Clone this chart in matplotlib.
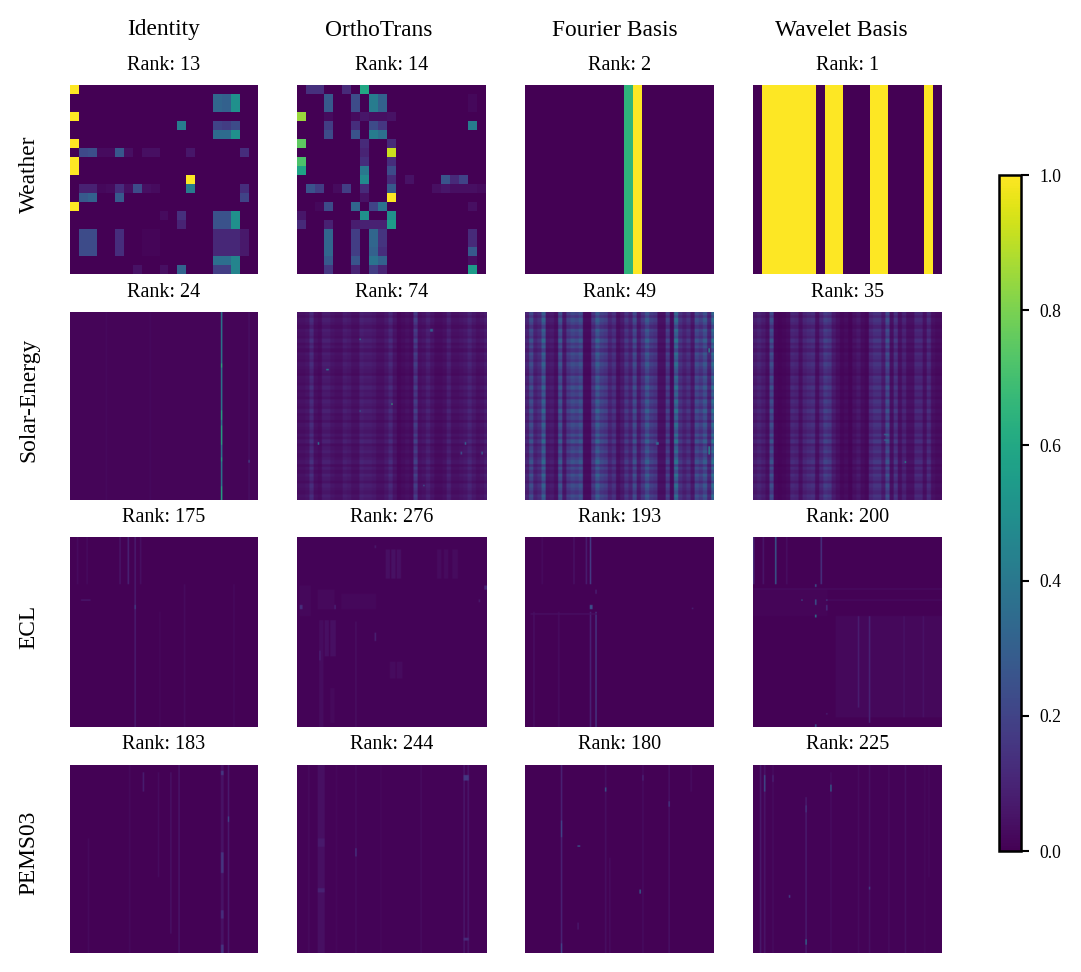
import numpy as np
import matplotlib
matplotlib.use("Agg")
import matplotlib.pyplot as plt

plt.rcParams['font.family'] = ['Liberation Serif', 'DejaVu Serif']

W, H = 1081, 972
methods = ["Identity", "OrthoTrans", "Fourier Basis", "Wavelet Basis"]
datasets = ["Weather", "Solar-Energy", "ECL", "PEMS03"]
ranks = [[13, 14, 2, 1], [24, 74, 49, 35], [175, 276, 193, 200], [183, 244, 180, 225]]
cbar_ticks = [0.0, 0.2, 0.4, 0.6, 0.8, 1.0]
raster_cells = 137  # visible cell size of the three lower rows of panels

# Weather: {row: {col: value}}, read cell by cell
weather_identity = {
    0: {0: 1}, 1: {16: .33, 17: .31, 18: .5}, 2: {16: .33, 17: .31, 18: .5}, 3: {0: 1},
    4: {12: .42, 16: .2, 17: .18, 18: .23}, 5: {16: .35, 17: .35, 18: .5}, 6: {0: 1},
    7: {1: .22, 2: .24, 3: .03, 4: .03, 5: .27, 6: .04, 8: .04, 9: .04, 13: .06, 19: .13},
    8: {0: 1}, 9: {0: 1}, 10: {13: 1},
    11: {1: .09, 2: .09, 3: .02, 4: .03, 5: .13, 6: .04, 7: .23, 8: .04, 9: .03, 13: .42, 19: .13},
    12: {1: .28, 2: .31, 5: .28, 19: .2}, 13: {0: 1},
    14: {10: .03, 12: .14, 16: .25, 17: .25, 18: .5}, 15: {12: .1, 16: .25, 17: .25, 18: .5},
    16: {1: .23, 2: .23, 5: .13, 8: .015, 9: .015, 16: .11, 17: .11, 18: .11, 19: .07},
    17: {1: .23, 2: .23, 5: .13, 8: .015, 9: .015, 16: .11, 17: .11, 18: .11, 19: .07},
    18: {1: .23, 2: .23, 5: .13, 8: .015, 9: .015, 16: .11, 17: .11, 18: .11, 19: .07},
    19: {16: .36, 17: .36, 18: .45},
    20: {7: .05, 10: .04, 12: .32, 16: .18, 17: .18, 18: .45},
}
weather_ortho = {
    0: {1: .14, 2: .14, 5: .12, 7: .6}, 1: {3: .28, 6: .23, 8: .42, 9: .31, 19: .02},
    2: {3: .28, 6: .23, 8: .42, 9: .31, 19: .02},
    3: {0: .85, 3: .03, 6: .03, 7: .06, 8: .04, 9: .04, 10: .05},
    4: {3: .18, 6: .13, 8: .23, 9: .16, 19: .42}, 5: {3: .23, 6: .25, 8: .42, 9: .36},
    6: {0: .75, 7: .12, 10: .12}, 7: {7: .1, 10: .92}, 8: {0: .72, 7: .13, 10: .13},
    9: {0: .58, 7: .4, 10: .23}, 10: {7: .48, 10: .12, 12: .05, 16: .26, 17: .12, 18: .2},
    11: {1: .25, 2: .18, 4: .03, 5: .18, 7: .12, 10: .28, 15: .04, 16: .06, 17: .04, 18: .04, 19: .04, 20: .03},
    12: {7: .05, 10: 1}, 13: {2: .02, 3: .23, 6: .33, 8: .2, 9: .38, 19: .04},
    14: {0: .06, 7: .5, 10: .5}, 15: {0: .12, 3: .09, 6: .08, 7: .09, 8: .09, 9: .09, 10: .55},
    16: {3: .33, 6: .18, 8: .33, 9: .15, 19: .12}, 17: {3: .33, 6: .18, 8: .33, 9: .15, 19: .12},
    18: {3: .33, 6: .18, 8: .31, 9: .13, 19: .28}, 19: {3: .28, 6: .26, 8: .38, 9: .31, 19: .04},
    20: {3: .16, 6: .1, 8: .18, 9: .1, 19: .55},
}
weather_fourier_cols = {11: .65, 12: 1}
weather_wavelet_cols = {1: 1, 2: 1, 3: 1, 4: 1, 5: 1, 6: 1, 8: 1, 9: 1, 13: 1, 14: 1, 19: 1}

# Solar-Energy: column and row brightness read across the panels
solar_rows = [1.1, .8, 1.2, 1.0, .7, 1.2, 1.0, .8, 1.3, .85, 1.1, .7, 1.2, 1.0, .8, 1.2, 1.0, .85,
              .65, 1.15, 1.0, .8, 1.25, .85, 1.05, .7, 1.2, 1.0, .8, 1.3, .85, 1.05, .7, 1.2, 1.0, .8,
              1.2, .8, 1.3, .7, 1.0, 1.2, .8, 1.05, 1.3, .7, 1.15, .8, 1.25, 1.0, .7, 1.2, 1.0, .8, 1.2, 1.0]
solar_ortho_cols = [.04, .04, .05, .11, .04, .03, .07, .07, .05, .04, .04, .07, .06, .04, .04, .08, .07, .07,
                    .06, .04, .04, .06, .1, .05, .02, .03, .04, .03, .15, .04, .05, .08, .05, .03, .03, .04,
                    .08, .04, .04, .05, .06, .09, .06, .04, .05, .07]
solar_fourier_cols = [.09, .2, .09, .12, .26, .06, .07, .04, .22, .06, .16, .2, .18, .22, .03, .03, .14, .25,
                      .18, .16, .09, .13, .04, .07, .14, .09, .2, .07, .14, .24, .16, .14, .04, .04, .16, .03,
                      .3, .13, .09, .13, .06, .2, .16, .23, .1, .3]
solar_wavelet_cols = [.07, .09, .07, .04, .2, .02, .015, .02, .03, .1, .09, .04, .09, .11, .12, .04, .1, .16,
                      .14, .07, .04, .02, .03, .015, .04, .06, .03, .02, .1, .13, .13, .07, .2, .04, .13, .04,
                      .09, .04, .04, .1, .1, .04, .11, .04, .03, .03]

# Local features: (x0, x1, y0, y1, value) in percent of the panel
solar_identity_marks = [
    (80.7, 81.4, 0, 100, .42), (80.7, 81.4, 28, 30, .62), (80.7, 81.4, 53, 58, .6),
    (80.7, 81.4, 61, 71, .6), (80.7, 81.4, 78, 80, .58), (80.7, 81.4, 93, 100, .6),
    (95.3, 96, 0, 100, .04), (95.3, 96, 79, 80.5, .22), (19, 19.7, 0, 100, .025), (42.5, 43.2, 0, 100, .025),
]
solar_ortho_marks = [
    (50, 50.8, 49, 50, .65), (33, 33.8, 15, 16, .45), (16, 17, 31, 32, .4), (70.8, 71.8, 10, 11, .3),
    (11, 11.8, 70, 71, .35), (88.7, 89.5, 70, 71, .3), (33, 33.8, 53, 54, .3), (97.5, 98.2, 75, 76, .3),
    (86.5, 87.2, 75, 76, .25), (67, 67.8, 92, 93, .25),
]
solar_wavelet_marks = [(80.5, 81.2, 80, 81, .5), (70, 72, 65, 66, .3), (70, 72, 68, 69, .32)]
solar_fourier_marks = [(97.5, 98.5, 20, 22, .5), (97.5, 98.5, 72, 76, .5), (70, 71.5, 70, 71, .35)]

ecl_identity_marks = [
    (26.3, 26.9, 0, 25, .06), (31, 31.7, 0, 25, .1), (34.8, 35.6, 0, 100, .08), (37.8, 38.4, 0, 25, .04),
    (4, 4.5, 0, 25, .03), (9, 9.5, 0, 25, .03), (61, 61.5, 25, 100, .03), (87, 87.5, 25, 100, .025),
    (48, 48.5, 40, 100, .02), (6, 11, 33, 33.7, .07), (34.8, 35.6, 36, 38, .2),
]
ecl_ortho_blocks = [
    (47, 49, 7, 22, .04), (50, 52, 7, 22, .045), (53, 55, 7, 22, .04), (74, 76, 7, 22, .03), (78, 80, 7, 22, .03),
    (82, 85, 7, 22, .03), (2, 8, 26, 42, .022), (11, 20, 28, 38, .025), (24, 42, 30, 38, .022),
    (12, 14, 44, 100, .035), (15, 17, 44, 63, .04), (18, 21, 44, 63, .04), (18, 20, 80, 98, .025),
    (49, 52, 66, 75, .03), (53, 56, 66, 75, .03), (31, 31.6, 45, 100, .04), (2, 3, 36, 38, .13), (20, 21, 36, 38, .1),
    (41, 42, 51, 55, .09), (99, 100, 26, 28, .11), (12, 12.7, 60, 65, .09), (41, 42, 5, 6, .07), (96, 97, 33.5, 34.5, .07),
]
ecl_fourier_marks = [
    (35, 35.7, 0, 25, .17), (32.3, 33, 0, 25, .08), (26.2, 26.8, 0, 25, .05), (9, 9.5, 0, 25, .03),
    (35, 35.6, 40, 100, .09), (37.7, 38.4, 40, 100, .17), (18.2, 18.8, 40, 100, .035), (5, 5.6, 40, 100, .04),
    (35, 36, 36, 38, .24), (37.5, 38.4, 28, 30, .09), (3, 38, 40.5, 41.2, .04), (88.8, 89.4, 37.5, 38.5, .09),
]
ecl_wavelet_marks = [
    (44, 100, 42, 95, .02), (0, 100, 27.7, 28.4, .03), (0, 100, 33, 33.8, .03), (0, 40, 28, 42, .015),
    (12, 12.6, 0, 25, .3), (5.4, 6, 0, 25, .06), (0.2, 0.8, 0, 25, .12), (18.2, 18.8, 0, 25, .04), (36, 36.6, 0, 25, .15),
    (33, 33.8, 41, 42.5, .42), (33, 33.8, 33, 36, .28), (33, 33.8, 25.5, 27, .28), (26.2, 27, 33, 34, .28),
    (38.8, 39.6, 33, 34, .2), (38.8, 39.6, 36, 39, .14), (55.8, 56.4, 42, 90, .08), (61.8, 62.4, 42, 98, .1),
    (79.8, 80.4, 42, 95, .05), (89.8, 90.4, 42, 95, .05), (33, 33.8, 99, 100, .3), (38.8, 39.6, 93, 94, .1),
]

pems_identity_marks = [
    (81, 82.3, 0, 100, .05), (84, 85, 0, 100, .07), (81, 82.3, 4, 6, .16), (81, 82.3, 47, 58, .15), (81, 82.3, 78, 82, .13),
    (84, 85, 28, 31, .2), (81, 82.3, 96, 100, .15), (38.7, 39.3, 5, 15, .08), (58, 58.5, 0, 100, .06), (54, 54.5, 5, 90, .05),
    (32, 32.5, 0, 100, .025), (47, 47.5, 5, 60, .03), (10, 10.5, 40, 100, .025),
]
pems_ortho_marks = [
    (11, 15, 0, 100, .04), (6, 6.6, 0, 100, .03), (88, 88.7, 0, 100, .07), (90, 90.7, 0, 100, .06), (31, 31.5, 0, 100, .035),
    (65, 65.6, 0, 100, .035), (21, 21.6, 0, 100, .02), (44, 44.5, 0, 100, .02), (88, 90.7, 6.5, 9, .16), (31, 31.6, 45, 49, .16),
    (11, 15, 66, 68, .09), (88, 90.7, 92, 94, .12), (11, 15, 40, 44, .07),
]
pems_fourier_marks = [
    (19.5, 20.2, 0, 100, .09), (19.5, 20.2, 30, 39, .2), (19.5, 20.2, 95, 100, .2), (43, 43.6, 0, 100, .04), (43, 43.6, 13, 15, .28),
    (76, 76.7, 0, 100, .05), (76, 76.7, 20, 23, .18), (62.3, 62.9, 0, 100, .035), (62.3, 62.9, 6, 9, .11), (61, 61.6, 67, 69, .32),
    (28.2, 29.5, 43.5, 44.5, .28), (28.2, 28.8, 84, 88, .07), (45, 45.5, 50, 100, .035), (88, 88.5, 0, 15, .035),
]
pems_wavelet_marks = [
    (3.8, 4.4, 0, 100, .07), (6.3, 6.9, 0, 100, .06), (6.3, 6.9, 6, 15, .24), (10.8, 11.4, 0, 100, .035), (10.8, 11.4, 6, 10, .1),
    (28, 28.6, 18, 100, .08), (28, 28.6, 93, 96, .36), (28, 28.6, 22, 26, .17), (41, 41.6, 5, 100, .035), (41, 41.6, 11, 15, .32),
    (62, 62.5, 0, 100, .04), (81, 81.5, 0, 100, .04), (72, 72.5, 0, 100, .035), (56, 56.5, 0, 100, .03), (93, 93.5, 0, 60, .025),
    (62, 62.6, 65.5, 67, .18), (19, 19.6, 70, 71, .18), (91, 91.5, 0, 100, .025),
]


def sparse_grid(n, cells):
    m = np.zeros((n, n))
    for r, row in cells.items():
        for c, v in row.items():
            m[r, c] = v
    return m


def column_grid(n, cols):
    m = np.zeros((n, n))
    for c, v in cols.items():
        m[:, c] = v
    return m


def panel(base=0.0, cols=None, rows=None, marks=()):
    n = raster_cells
    m = np.full((n, n), float(base))
    if cols is not None:
        c = np.asarray(cols)[np.arange(n) * len(cols) // n]
        r = np.asarray(rows)[np.arange(n) * len(rows) // n]
        m = np.outer(r, c)
    for x0, x1, y0, y1, v in marks:
        a, b = int(x0 / 100 * n), int(x1 / 100 * n)
        d, e = int(y0 / 100 * n), int(y1 / 100 * n)
        m[d:max(e, d + 1), a:max(b, a + 1)] = v
    return m


grids = [
    [sparse_grid(21, weather_identity), sparse_grid(21, weather_ortho),
     column_grid(21, weather_fourier_cols), column_grid(21, weather_wavelet_cols)],
    [panel(.012, marks=solar_identity_marks),
     panel(cols=solar_ortho_cols, rows=solar_rows, marks=solar_ortho_marks),
     panel(cols=solar_fourier_cols, rows=solar_rows, marks=solar_fourier_marks),
     panel(cols=solar_wavelet_cols, rows=solar_rows, marks=solar_wavelet_marks)],
    [panel(.006, marks=ecl_identity_marks), panel(.01, marks=ecl_ortho_blocks),
     panel(.006, marks=ecl_fourier_marks), panel(.006, marks=ecl_wavelet_marks)],
    [panel(.006, marks=pems_identity_marks), panel(.01, marks=pems_ortho_marks),
     panel(.006, marks=pems_fourier_marks), panel(.01, marks=pems_wavelet_marks)],
]

fig = plt.figure(figsize=(W / 100, H / 100), dpi=100)


def px_axes(x0, y0, x1, y1):
    return fig.add_axes([x0 / W, 1 - y1 / H, (x1 - x0) / W, (y1 - y0) / H])


col_px = [(70, 258), (297, 486), (525, 714), (753, 942)]
row_px = [(85, 274), (312, 500), (537.5, 727), (764.5, 953)]
title_x = [164, 379, 615, 841]
label_y = [174, 400, 627, 853]

im = None
for i, (y0, y1) in enumerate(row_px):
    for j, (x0, x1) in enumerate(col_px):
        ax = px_axes(x0, y0, x1, y1)
        im = ax.imshow(grids[i][j], cmap='viridis', vmin=0, vmax=1, aspect='auto',
                       interpolation='nearest' if i == 0 else 'bilinear')
        ax.axis('off')
        ax.set_title(f"Rank: {ranks[i][j]}", fontsize=14.5, pad=11)

for x, name in zip(title_x, methods):
    fig.text(x / W, 1 - 30 / H, name, ha='center', va='center', fontsize=16.8)
for y, name in zip(label_y, datasets):
    fig.text(29 / W, 1 - y / H, name, ha='center', va='center', rotation=90, fontsize=16.8)

cax = px_axes(999, 175, 1021, 851)
cb = fig.colorbar(im, cax=cax, ticks=cbar_ticks)
cb.outline.set_linewidth(1.8)
cb.ax.tick_params(length=6, width=1.5, labelsize=12.7, pad=7)
cb.ax.set_yticklabels([f"{t:.1f}" for t in cbar_ticks])

fig.savefig("out.png", dpi=100)
